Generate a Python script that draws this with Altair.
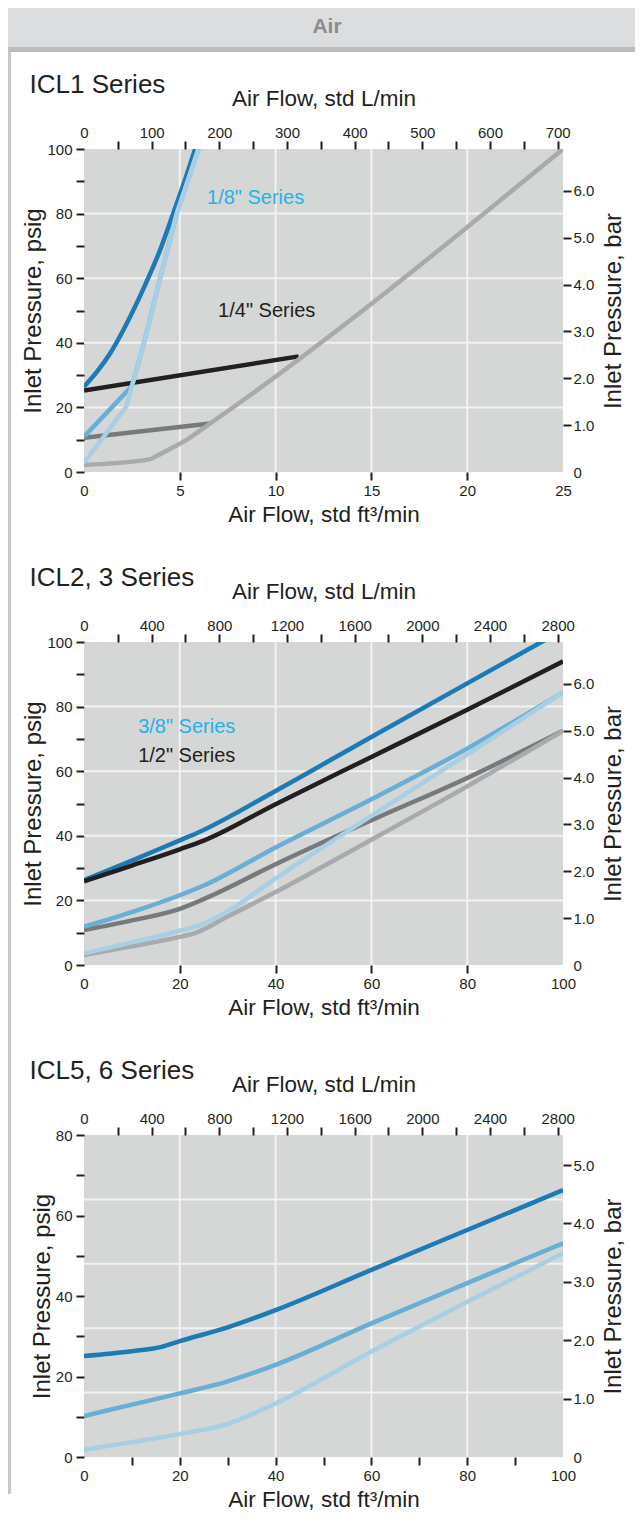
import altair as alt
import pandas as pd

FONT = "Liberation Sans"
DARK = "#231f20"
BG = "#d5d6d6"
GRID = "#f2f2f2"
CFM_TO_LPM = 28.3168
PSI_PER_BAR = 14.5038

C_DBLUE = "#1c7ab5"
C_MBLUE = "#6aadd5"
C_LBLUE = "#a8cfe4"
C_BLACK = "#231f20"
C_DGRAY = "#77797c"
C_LGRAY = "#a8aaad"
C_CYAN = "#24b3e6"

# ---------------- ICL1 Series (x: std ft3/min, y: psig) ----------------
icl1_14_high_x = [0, 11.2]
icl1_14_high_y = [25.2, 35.8]
icl1_14_mid_x = [0, 6.6]
icl1_14_mid_y = [10.6, 15.0]
icl1_14_low_x = [0, 3.4, 3.8, 4.5, 5.2, 6.6, 25]
icl1_14_low_y = [2.2, 3.9, 5.0, 7.2, 9.4, 15.1, 100]
icl1_18_high_x = [0, 0.7, 1.36, 2.23, 3.18, 3.97, 4.66, 5.27, 5.8]
icl1_18_high_y = [26.4, 31.2, 36.7, 46.0, 57.8, 68.7, 80.1, 90.4, 100]
icl1_18_mid_x = [0, 2.5, 3.13, 3.97, 4.84, 5.97]
icl1_18_mid_y = [10.9, 26.6, 40, 60, 80, 100]
icl1_18_low_x = [0, 2.2, 3.13, 3.97, 4.84, 5.97]
icl1_18_low_y = [2.8, 20.2, 40, 60, 80, 100]
icl1_label_text = ['1/8" Series', '1/4" Series']
icl1_label_x = [6.42, 7.0]
icl1_label_y = [84.8, 49.8]
icl1_grid_x = [5, 10, 15, 20]
icl1_grid_y = [20, 40, 60, 80]

# ---------------- ICL2, 3 Series ----------------
icl2_38_high_x = [0, 10, 20, 23.5, 40, 60, 80, 100]
icl2_38_high_y = [26.3, 32.3, 38.6, 40.8, 53.9, 70.6, 87.2, 103.7]
icl2_12_high_x = [0, 10, 20, 25, 40, 60, 80, 100]
icl2_12_high_y = [25.9, 30.8, 35.8, 38.5, 49.8, 64.4, 79.0, 94.0]
icl2_38_mid_x = [0, 10, 20, 25, 40, 60, 80, 100]
icl2_38_mid_y = [11.9, 16.4, 21.6, 24.6, 36.4, 51.3, 67.0, 84.4]
icl2_38_low_x = [0, 10, 20, 25, 30, 40, 60, 80, 100]
icl2_38_low_y = [3.6, 7.0, 10.6, 12.8, 16.6, 26.8, 46.2, 65.2, 84.4]
icl2_12_mid_x = [0, 10, 20, 25, 40, 60, 80, 100]
icl2_12_mid_y = [10.8, 13.8, 17.4, 20.4, 31.2, 44.8, 57.9, 72.5]
icl2_12_low_x = [0, 10, 20, 23, 30, 40, 60, 80, 100]
icl2_12_low_y = [3.1, 5.8, 8.7, 9.8, 15.0, 22.6, 38.8, 55.3, 72.5]
icl2_label_text = ['3/8" Series', '1/2" Series']
icl2_label_x = [11.3, 11.3]
icl2_label_y = [73.7, 64.7]
icl2_grid_x = [20, 40, 60, 80]
icl2_grid_y = [20, 40, 60, 80]

# ---------------- ICL5, 6 Series ----------------
icl5_high_x = [0, 10, 16, 20, 30, 40, 60, 80, 100]
icl5_high_y = [25.1, 26.3, 27.3, 28.8, 32.2, 36.5, 46.5, 56.4, 66.3]
icl5_mid_x = [0, 10, 20, 30, 40, 60, 80, 100]
icl5_mid_y = [10.2, 13.0, 15.8, 18.8, 22.9, 33.2, 43.2, 53.1]
icl5_low_x = [0, 10, 20, 30, 40, 60, 80, 100]
icl5_low_y = [1.8, 3.7, 5.7, 8.2, 13.3, 26.2, 38.6, 50.6]
icl5_grid_x = [20, 40, 60, 80]
icl5_grid_y = [16, 32, 48, 64]

AX = dict(domain=False, grid=False, tickColor=DARK, tickWidth=2, tickSize=8,
          labelFont=FONT, labelFontSize=15, labelColor=DARK, labelFlush=False,
          labelOverlap=False, titleFont=FONT,
          titleFontWeight="normal", titleColor=DARK, format="d")


def hide_ticks(vals):
    test = " || ".join(f"datum.value == {v}" for v in vals)
    return {"condition": {"test": test, "value": 0}, "value": 1}


def panel(series, labels, grid_x, grid_y, xmax, ymax, x_vals, x_lab_step,
          lpm_step, lpm_lab_step, title, height, extra=None):
    xscale = alt.Scale(domain=[0, xmax], nice=False, zero=False)
    yscale = alt.Scale(domain=[0, ymax], nice=False, zero=False)
    x_axis = alt.Axis(orient="bottom", values=x_vals,
                      labelExpr=f"datum.value % {x_lab_step} == 0 ? datum.label : ''",
                      tickOpacity=hide_ticks([0, xmax]), labelPadding=3,
                      title="Air Flow, std ft³/min", titleFontSize=22.5,
                      titlePadding=5, **AX)
    y_axis = alt.Axis(orient="left", values=list(range(0, ymax + 1, 10)),
                      labelExpr="datum.value % 20 == 0 ? datum.label : ''",
                      labelPadding=4, title="Inlet Pressure, psig",
                      titleFontSize=24, titlePadding=1, **AX)
    X = alt.X("cfm:Q", scale=xscale, axis=x_axis)
    Y = alt.Y("psig:Q", scale=yscale, axis=y_axis)

    layers = [
        alt.Chart(pd.DataFrame({"cfm": grid_x})).mark_rule(color=GRID, strokeWidth=2).encode(x=X),
        alt.Chart(pd.DataFrame({"psig": grid_y})).mark_rule(color=GRID, strokeWidth=2).encode(y=Y),
    ]
    for xs, ys, col, interp in series:
        layers.append(
            alt.Chart(pd.DataFrame({"cfm": xs, "psig": ys}))
            .mark_line(color=col, strokeWidth=4.5, clip=True, strokeJoin="round",
                       interpolate=interp)
            .encode(x=X, y=Y)
        )
    for txt, lx, ly, col in labels:
        layers.append(
            alt.Chart(pd.DataFrame({"cfm": [lx], "psig": [ly], "t": [txt]}))
            .mark_text(align="left", baseline="middle", font=FONT, fontSize=20, color=col)
            .encode(x=X, y=Y, text="t:N")
        )
    layers.append(
        alt.Chart(pd.DataFrame({"t": [title]}))
        .mark_text(align="left", baseline="alphabetic", font=FONT, fontSize=26, color=DARK)
        .encode(text="t:N", x=alt.value(-54.5), y=alt.value(-56))
    )
    if extra:
        layers.extend(extra)
    inner = alt.layer(*layers)

    lpm_max = xmax * CFM_TO_LPM
    bar_max = ymax / PSI_PER_BAR
    top_axis = alt.Axis(orient="top", values=list(range(0, int(lpm_max) + 1, lpm_step)),
                        labelExpr=f"datum.value % {lpm_lab_step} == 0 ? datum.label : ''",
                        tickOpacity=hide_ticks([0]), labelPadding=1,
                        title="Air Flow, std L/min", titleFontSize=22.5,
                        titlePadding=15, **AX)
    right_axis = alt.Axis(orient="right", values=list(range(0, int(bar_max) + 1)),
                          labelExpr="datum.value == 0 ? '0' : format(datum.value, '.1f')",
                          tickOpacity=hide_ticks([0]), labelPadding=2,
                          title="Inlet Pressure, bar", titleAngle=270,
                          titleBaseline="top", titleFontSize=24, titlePadding=8, **AX)
    secondary = alt.Chart(pd.DataFrame({"lpm": [0.0], "bar": [0.0]})).mark_point(opacity=0).encode(
        x=alt.X("lpm:Q", scale=alt.Scale(domain=[0, lpm_max], nice=False, zero=False), axis=top_axis),
        y=alt.Y("bar:Q", scale=alt.Scale(domain=[0, bar_max], nice=False, zero=False), axis=right_axis),
    )
    return alt.layer(inner, secondary).resolve_scale(x="independent", y="independent").properties(
        width=479, height=height)


# page frame decorations (pixel positions relative to the first plot area)
frame = [
    alt.Chart(pd.DataFrame({"a": [0]})).mark_rect(color="#dcdddf").encode(
        x=alt.value(-76), x2=alt.value(551), y=alt.value(-141), y2=alt.value(-102)),
    alt.Chart(pd.DataFrame({"a": [0]})).mark_rect(color="#b9bbbd").encode(
        x=alt.value(-76), x2=alt.value(551), y=alt.value(-102), y2=alt.value(-97)),
    alt.Chart(pd.DataFrame({"a": [0]})).mark_rect(color="#c6c7c9").encode(
        x=alt.value(-76), x2=alt.value(-73), y=alt.value(-97), y2=alt.value(1345)),
    alt.Chart(pd.DataFrame({"t": ["Air"]})).mark_text(
        align="center", baseline="middle", font=FONT, fontSize=21, fontWeight="bold",
        color="#8b8c8e").encode(text="t:N", x=alt.value(243), y=alt.value(-122)),
]

M, L = "monotone", "linear"

p1 = panel(
    [(icl1_14_high_x, icl1_14_high_y, C_BLACK, L),
     (icl1_14_mid_x, icl1_14_mid_y, C_DGRAY, L),
     (icl1_14_low_x, icl1_14_low_y, C_LGRAY, M),
     (icl1_18_high_x, icl1_18_high_y, C_DBLUE, M),
     (icl1_18_mid_x, icl1_18_mid_y, C_MBLUE, L),
     (icl1_18_low_x, icl1_18_low_y, C_LBLUE, L)],
    [(icl1_label_text[0], icl1_label_x[0], icl1_label_y[0], C_CYAN),
     (icl1_label_text[1], icl1_label_x[1], icl1_label_y[1], DARK)],
    icl1_grid_x, icl1_grid_y, 25, 100, [0, 5, 10, 15, 20, 25], 5, 50, 100,
    "ICL1 Series", 323, extra=frame)

p2 = panel(
    [(icl2_38_high_x, icl2_38_high_y, C_DBLUE, M),
     (icl2_12_high_x, icl2_12_high_y, C_BLACK, M),
     (icl2_12_mid_x, icl2_12_mid_y, C_DGRAY, M),
     (icl2_12_low_x, icl2_12_low_y, C_LGRAY, M),
     (icl2_38_mid_x, icl2_38_mid_y, C_MBLUE, M),
     (icl2_38_low_x, icl2_38_low_y, C_LBLUE, M)],
    [(icl2_label_text[0], icl2_label_x[0], icl2_label_y[0], C_CYAN),
     (icl2_label_text[1], icl2_label_x[1], icl2_label_y[1], DARK)],
    icl2_grid_x, icl2_grid_y, 100, 100, [0, 20, 40, 60, 80, 100], 20, 200, 400,
    "ICL2, 3 Series", 323)

p3 = panel(
    [(icl5_high_x, icl5_high_y, C_DBLUE, M),
     (icl5_mid_x, icl5_mid_y, C_MBLUE, M),
     (icl5_low_x, icl5_low_y, C_LBLUE, M)],
    [],
    icl5_grid_x, icl5_grid_y, 100, 80, list(range(0, 101, 10)), 20, 200, 400,
    "ICL5, 6 Series", 322)

chart = alt.vconcat(p1, p2, p3, spacing=170, bounds="flush").properties(
    padding=0
).configure_view(fill=BG, stroke=None)

chart.save("out.html", embed_options={"renderer": "svg", "actions": False})
